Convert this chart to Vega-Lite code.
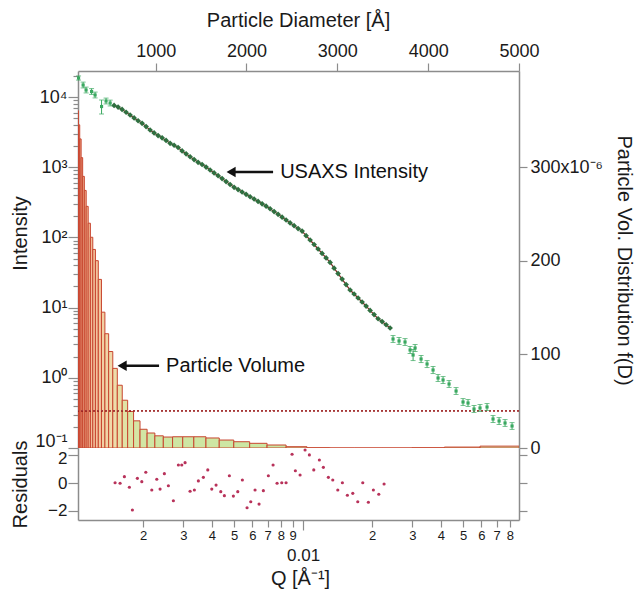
{
  "$schema": "https://vega.github.io/schema/vega-lite/v6.json",
  "padding": {"left": 10, "top": 10, "right": 4, "bottom": 4},
  "bounds": "flush",
  "spacing": 0,
  "config": {
    "font": "Liberation Sans",
    "view": {"stroke": null},
    "axis": {"grid": false, "domainColor": "#8c8c8c", "domainWidth": 1.5, "tickColor": "#8c8c8c", "tickWidth": 1.2, "labelColor": "#1a1a1a", "titleColor": "#1a1a1a", "labelFont": "Liberation Sans", "titleFont": "Liberation Sans", "titleFontWeight": "normal", "labelFontSize": 18, "titleFontSize": 20, "labelFlush": false, "labelOverlap": false, "labelBound": false, "titleAlign": "center", "titleBaseline": "middle"}
  },
  "datasets": {
    "bars": [
      {"d0": 137.0, "d1": 149.9, "v": 360}, {"d0": 149.9, "d1": 164.0, "v": 345}, {"d0": 164.0, "d1": 179.4, "v": 330},
      {"d0": 179.4, "d1": 196.3, "v": 310}, {"d0": 196.3, "d1": 214.8, "v": 290}, {"d0": 214.8, "d1": 235.0, "v": 275},
      {"d0": 235.0, "d1": 257.1, "v": 258}, {"d0": 257.1, "d1": 281.3, "v": 240}, {"d0": 281.3, "d1": 307.8, "v": 225},
      {"d0": 307.8, "d1": 336.8, "v": 212}, {"d0": 336.8, "d1": 368.5, "v": 200}, {"d0": 368.5, "d1": 403.2, "v": 180},
      {"d0": 403.2, "d1": 441.1, "v": 145}, {"d0": 441.1, "d1": 482.6, "v": 122}, {"d0": 482.6, "d1": 528.0, "v": 103},
      {"d0": 528.0, "d1": 577.7, "v": 85}, {"d0": 577.7, "d1": 632.1, "v": 67}, {"d0": 632.1, "d1": 691.6, "v": 51},
      {"d0": 691.6, "d1": 756.7, "v": 39}, {"d0": 756.7, "d1": 827.9, "v": 29}, {"d0": 827.9, "d1": 905.8, "v": 20},
      {"d0": 905.8, "d1": 991.0, "v": 16}, {"d0": 991.0, "d1": 1084.3, "v": 13}, {"d0": 1084.3, "d1": 1186.3, "v": 11.7},
      {"d0": 1186.3, "d1": 1298.0, "v": 12}, {"d0": 1298.0, "d1": 1420.1, "v": 12}, {"d0": 1420.1, "d1": 1553.7, "v": 12},
      {"d0": 1553.7, "d1": 1699.9, "v": 10.7}, {"d0": 1699.9, "d1": 1859.9, "v": 8.5}, {"d0": 1859.9, "d1": 2034.9, "v": 6.7},
      {"d0": 2034.9, "d1": 2226.4, "v": 5}, {"d0": 2226.4, "d1": 2435.9, "v": 3.2}, {"d0": 2435.9, "d1": 2665.2, "v": 1.4},
      {"d0": 2665.2, "d1": 2916.0, "v": 0.3}, {"d0": 2916.0, "d1": 3190.4, "v": 0.05}, {"d0": 3190.4, "d1": 3490.6, "v": 0.05},
      {"d0": 3490.6, "d1": 3819.1, "v": 0.05}, {"d0": 3819.1, "d1": 4178.5, "v": 0.3}, {"d0": 4178.5, "d1": 4571.7, "v": 1},
      {"d0": 4571.7, "d1": 5001.9, "v": 2}
    ],
    "dense": [
      {"q": 0.0014951, "i": 7594}, {"q": 0.0015565, "i": 7180}, {"q": 0.0016204, "i": 6658}, {"q": 0.0016869, "i": 6074},
      {"q": 0.0017562, "i": 5540}, {"q": 0.0018283, "i": 5038}, {"q": 0.0019033, "i": 4596}, {"q": 0.0019814, "i": 4221},
      {"q": 0.0020627, "i": 3788}, {"q": 0.0021474, "i": 3388}, {"q": 0.0022355, "i": 3081}, {"q": 0.0023273, "i": 2819},
      {"q": 0.0024228, "i": 2623}, {"q": 0.0025222, "i": 2409}, {"q": 0.0026258, "i": 2190}, {"q": 0.0027335, "i": 2058},
      {"q": 0.0028457, "i": 1908}, {"q": 0.0029625, "i": 1707}, {"q": 0.0030841, "i": 1552}, {"q": 0.0032107, "i": 1411},
      {"q": 0.0033425, "i": 1283}, {"q": 0.0034797, "i": 1174}, {"q": 0.0036225, "i": 1093}, {"q": 0.0037712, "i": 1003},
      {"q": 0.0039260, "i": 912}, {"q": 0.0040871, "i": 829}, {"q": 0.0042549, "i": 757}, {"q": 0.0044295, "i": 688},
      {"q": 0.0046113, "i": 624}, {"q": 0.0048006, "i": 567}, {"q": 0.0049976, "i": 517}, {"q": 0.0052027, "i": 480},
      {"q": 0.0054163, "i": 443}, {"q": 0.0056386, "i": 411}, {"q": 0.0058700, "i": 380}, {"q": 0.0061109, "i": 352},
      {"q": 0.0063617, "i": 326}, {"q": 0.0066228, "i": 301}, {"q": 0.0068946, "i": 279}, {"q": 0.0071776, "i": 256},
      {"q": 0.0074722, "i": 233}, {"q": 0.0077789, "i": 213}, {"q": 0.0080982, "i": 194}, {"q": 0.0084305, "i": 177},
      {"q": 0.0087765, "i": 161}, {"q": 0.0091368, "i": 147}, {"q": 0.0095118, "i": 133.5}, {"q": 0.0099022, "i": 123},
      {"q": 0.0103086, "i": 106}, {"q": 0.0107317, "i": 91.8}, {"q": 0.0111722, "i": 79.2}, {"q": 0.0116307, "i": 68.4},
      {"q": 0.0121081, "i": 59.2}, {"q": 0.0126050, "i": 51.0}, {"q": 0.0131224, "i": 44.0}, {"q": 0.0136610, "i": 36.5},
      {"q": 0.0142216, "i": 30.5}, {"q": 0.0148053, "i": 25.5}, {"q": 0.0154130, "i": 21.3}, {"q": 0.0160456, "i": 17.8},
      {"q": 0.0167042, "i": 15.6}, {"q": 0.0173898, "i": 13.7}, {"q": 0.0181035, "i": 12.0}, {"q": 0.0188465, "i": 10.5},
      {"q": 0.0196200, "i": 9.12}, {"q": 0.0204253, "i": 7.95}, {"q": 0.0212636, "i": 6.93}, {"q": 0.0221363, "i": 6.32},
      {"q": 0.0230449, "i": 5.69}, {"q": 0.0239907, "i": 5.12}
    ],
    "sparse": [
      {"q": 0.001046, "i": 18650, "lo": 17430, "hi": 19960}, {"q": 0.001095, "i": 14820, "lo": 13470, "hi": 16300},
      {"q": 0.001128, "i": 12580, "lo": 11440, "hi": 13840}, {"q": 0.001192, "i": 11980, "lo": 10890, "hi": 13180},
      {"q": 0.001235, "i": 10680, "lo": 9710, "hi": 11750}, {"q": 0.001318, "i": 7320, "lo": 5730, "hi": 9060},
      {"q": 0.001379, "i": 8770, "lo": 7970, "hi": 9650}, {"q": 0.001437, "i": 8210, "lo": 7460, "hi": 9030},
      {"q": 0.024708, "i": 3.570, "lo": 3.19, "hi": 4.00}, {"q": 0.026249, "i": 3.344, "lo": 2.99, "hi": 3.75},
      {"q": 0.027879, "i": 3.236, "lo": 2.89, "hi": 3.62}, {"q": 0.029331, "i": 2.489, "lo": 2.22, "hi": 2.79},
      {"q": 0.030230, "i": 2.112, "lo": 1.76, "hi": 2.53}, {"q": 0.030844, "i": 2.658, "lo": 2.37, "hi": 2.98},
      {"q": 0.032757, "i": 1.853, "lo": 1.65, "hi": 2.08}, {"q": 0.034790, "i": 1.573, "lo": 1.40, "hi": 1.76},
      {"q": 0.036951, "i": 1.291, "lo": 1.15, "hi": 1.45}, {"q": 0.038857, "i": 0.9935, "lo": 0.887, "hi": 1.113},
      {"q": 0.040863, "i": 0.930, "lo": 0.830, "hi": 1.042}, {"q": 0.043402, "i": 0.816, "lo": 0.729, "hi": 0.914},
      {"q": 0.046577, "i": 0.6484, "lo": 0.579, "hi": 0.726}, {"q": 0.049952, "i": 0.452, "lo": 0.404, "hi": 0.506},
      {"q": 0.052528, "i": 0.4375, "lo": 0.391, "hi": 0.490}, {"q": 0.055790, "i": 0.3594, "lo": 0.321, "hi": 0.403},
      {"q": 0.059255, "i": 0.3713, "lo": 0.332, "hi": 0.416}, {"q": 0.063593, "i": 0.3837, "lo": 0.343, "hi": 0.430},
      {"q": 0.067543, "i": 0.2589, "lo": 0.231, "hi": 0.290}, {"q": 0.071776, "i": 0.2424, "lo": 0.216, "hi": 0.271},
      {"q": 0.076221, "i": 0.2270, "lo": 0.203, "hi": 0.254}, {"q": 0.081778, "i": 0.2058, "lo": 0.184, "hi": 0.230}
    ],
    "notes": [
      {"q": 0.00794, "i": 855, "label": "USAXS Intensity"},
      {"q": 0.002522, "i": 1.487, "label": "Particle Volume"}
    ],
    "arrows": [
      {"q0": 0.004898, "q1": 0.007396, "qh": 0.004849, "i": 855},
      {"q0": 0.001637, "q1": 0.002350, "qh": 0.001621, "i": 1.487}
    ],
    "resid": [
      {"q": 0.0015102, "r": 0.02}, {"q": 0.0015880, "r": -0.02}, {"q": 0.0016582, "r": 0.46}, {"q": 0.0017437, "r": -0.31},
      {"q": 0.0017972, "r": -1.96}, {"q": 0.0018898, "r": 0.34}, {"q": 0.0019753, "r": 0.10}, {"q": 0.0020564, "r": 0.78},
      {"q": 0.0021840, "r": -0.51}, {"q": 0.0022966, "r": 0.27}, {"q": 0.0023741, "r": -0.44}, {"q": 0.0024790, "r": 0.68},
      {"q": 0.0025807, "r": -0.20}, {"q": 0.0027137, "r": -1.29}, {"q": 0.0028537, "r": 1.31}, {"q": 0.0029529, "r": 1.31},
      {"q": 0.0030527, "r": 1.48}, {"q": 0.0032101, "r": -0.60}, {"q": 0.0033519, "r": -0.51}, {"q": 0.0034893, "r": 0.15},
      {"q": 0.0036692, "r": 0.41}, {"q": 0.0038351, "r": 0.95}, {"q": 0.0039926, "r": -0.44}, {"q": 0.0041691, "r": -0.15},
      {"q": 0.0043707, "r": -0.63}, {"q": 0.0045317, "r": -0.92}, {"q": 0.0047654, "r": 0.53}, {"q": 0.0049609, "r": -0.95},
      {"q": 0.0051853, "r": -0.63}, {"q": 0.0054307, "r": 0.22}, {"q": 0.0056934, "r": -1.80}, {"q": 0.0059087, "r": -1.36},
      {"q": 0.0061698, "r": -0.51}, {"q": 0.0064230, "r": -1.53}, {"q": 0.0067070, "r": -0.56}, {"q": 0.0070528, "r": 0.53},
      {"q": 0.0073963, "r": 1.31}, {"q": 0.0076995, "r": -0.02}, {"q": 0.0080716, "r": 0.02}, {"q": 0.0084283, "r": 0.02},
      {"q": 0.0089518, "r": 2.09}, {"q": 0.0092539, "r": 0.89}, {"q": 0.0097028, "r": 0.58}, {"q": 0.010203, "r": 2.40},
      {"q": 0.010654, "r": 2.04}, {"q": 0.011136, "r": 0.95}, {"q": 0.011781, "r": 1.67}, {"q": 0.012265, "r": 1.14},
      {"q": 0.012897, "r": 0.41}, {"q": 0.013480, "r": 0.22}, {"q": 0.014177, "r": -0.51}, {"q": 0.014848, "r": 0.02},
      {"q": 0.015613, "r": -0.89}, {"q": 0.016484, "r": -0.75}, {"q": 0.017334, "r": -1.36}, {"q": 0.018228, "r": 0.02},
      {"q": 0.019284, "r": -1.40}, {"q": 0.020279, "r": -0.51}, {"q": 0.021410, "r": -0.82}, {"q": 0.022583, "r": -0.07}
    ]
  },
  "vconcat": [
    {
      "width": 441,
      "height": 377,
      "layer": [
        {
          "data": {"name": "bars"},
          "layer": [
            {
              "mark": {"type": "rect", "stroke": "#c8452f", "strokeWidth": 1, "clip": true},
              "encoding": {
                "x": {"field": "d0", "type": "quantitative", "scale": {"domain": [145, 5000], "nice": false, "zero": false},
                  "axis": {"orient": "top", "values": [1000, 2000, 3000, 4000, 5000], "format": "d", "title": "Particle Diameter [Å]", "tickSize": 8, "labelPadding": 3, "titleX": 220, "titleY": -51}},
                "x2": {"field": "d1"},
                "y": {"field": "v", "type": "quantitative", "scale": {"domain": [0, 402.5], "nice": false},
                  "axis": {"orient": "right", "values": [0, 100, 200, 300], "labelExpr": "datum.value == 300 ? '300x10⁻⁶' : datum.label", "title": "Particle Vol. Distribution f(D)", "tickSize": 8, "labelPadding": 3, "titleAngle": 90, "titleX": 104, "titleY": 189}},
                "y2": {"datum": 0},
                "fill": {"field": "v", "type": "quantitative", "scale": {"domain": [0, 25, 90, 200, 400], "range": ["#c9e6a3", "#d4e6a4", "#efdcab", "#f3c49e", "#ea9c80"]}, "legend": null}
              }
            },
            {
              "mark": {"type": "rule", "stroke": "#a83838", "strokeDash": [2, 2], "strokeWidth": 1},
              "encoding": {"y": {"datum": 40}}
            }
          ]
        },
        {
          "layer": [
            {
              "data": {"name": "sparse"},
              "mark": {"type": "errorbar", "ticks": {"size": 5}, "color": "#3aa860"},
              "encoding": {
                "x": {"field": "q", "type": "quantitative", "scale": {"type": "log", "domain": [0.00104, 0.0877], "nice": false}, "axis": null},
                "y": {"field": "lo", "type": "quantitative", "scale": {"type": "log", "domain": [0.1, 23470], "nice": false},
                  "axis": {"orient": "left", "title": "Intensity", "titleX": -58, "titleY": 162, "labelPadding": 1,
                    "values": [0.1, 0.2, 0.3, 0.4, 0.5, 0.6, 0.7, 0.8, 0.9, 1, 2, 3, 4, 5, 6, 7, 8, 9, 10, 20, 30, 40, 50, 60, 70, 80, 90, 100, 200, 300, 400, 500, 600, 700, 800, 900, 1000, 2000, 3000, 4000, 5000, 6000, 7000, 8000, 9000, 10000, 20000],
                    "labelExpr": "datum.value == 10000 ? '10⁴' : datum.value == 1000 ? '10³' : datum.value == 100 ? '10²' : datum.value == 10 ? '10¹' : datum.value == 1 ? '10⁰' : datum.value == 0.1 ? '10⁻¹' : ''",
                    "labelBaseline": {"condition": {"test": "datum.value == 0.1", "value": "alphabetic"}, "value": "middle"},
                    "labelOffset": {"condition": {"test": "datum.value == 0.1", "value": -2}, "value": 0},
                    "tickSize": {"condition": {"test": "indexof([0.1, 1, 10, 100, 1000, 10000], datum.value) >= 0", "value": 10}, "value": 5}}},
                "y2": {"field": "hi"}
              }
            },
            {
              "data": {"name": "dense"},
              "mark": {"type": "line", "color": "#7d2a22", "strokeWidth": 1.2},
              "encoding": {
                "x": {"field": "q", "type": "quantitative", "scale": {"type": "log", "domain": [0.00104, 0.0877], "nice": false}, "axis": null},
                "y": {"field": "i", "type": "quantitative", "scale": {"type": "log", "domain": [0.1, 23470], "nice": false}}
              }
            },
            {
              "data": {"name": "dense"},
              "mark": {"type": "point", "shape": "diamond", "filled": true, "size": 32, "color": "#2f7040", "opacity": 1},
              "encoding": {
                "x": {"field": "q", "type": "quantitative", "axis": null},
                "y": {"field": "i", "type": "quantitative"}
              }
            },
            {
              "data": {"name": "sparse"},
              "mark": {"type": "point", "shape": "square", "filled": true, "size": 10, "color": "#3aa860", "opacity": 1},
              "encoding": {
                "x": {"field": "q", "type": "quantitative", "axis": null},
                "y": {"field": "i", "type": "quantitative"}
              }
            },
            {
              "data": {"name": "arrows"},
              "mark": {"type": "rule", "color": "#111111", "strokeWidth": 2.6},
              "encoding": {
                "x": {"field": "q0", "type": "quantitative", "axis": null},
                "x2": {"field": "q1"},
                "y": {"field": "i", "type": "quantitative"}
              }
            },
            {
              "data": {"name": "arrows"},
              "mark": {"type": "point", "shape": "triangle-left", "filled": true, "size": 110, "color": "#111111", "opacity": 1},
              "encoding": {
                "x": {"field": "qh", "type": "quantitative", "axis": null},
                "y": {"field": "i", "type": "quantitative"}
              }
            },
            {
              "data": {"name": "notes"},
              "mark": {"type": "text", "align": "left", "baseline": "middle", "fontSize": 20, "color": "#111111"},
              "encoding": {
                "x": {"field": "q", "type": "quantitative", "axis": null},
                "y": {"field": "i", "type": "quantitative"},
                "text": {"field": "label"}
              }
            }
          ]
        }
      ],
      "resolve": {"scale": {"x": "independent", "y": "independent"}}
    },
    {
      "width": 441,
      "height": 72,
      "data": {"name": "resid"},
      "layer": [
        {
          "mark": {"type": "circle", "size": 10, "color": "#b8325a", "opacity": 1},
          "encoding": {
            "x": {"field": "q", "type": "quantitative", "scale": {"type": "log", "domain": [0.00104, 0.0877], "nice": false},
              "axis": {"orient": "bottom", "title": "Q [Å⁻¹]", "titleX": 222, "titleY": 58,
                "values": [0.002, 0.003, 0.004, 0.005, 0.006, 0.007, 0.008, 0.009, 0.01, 0.02, 0.03, 0.04, 0.05, 0.06, 0.07, 0.08],
                "labelExpr": "datum.value == 0.01 ? '0.01' : format(datum.value < 0.01 ? datum.value * 1000 : datum.value * 100, '.0f')",
                "labelFontSize": {"condition": {"test": "datum.value == 0.01", "value": 17}, "value": 13},
                "labelPadding": {"condition": {"test": "datum.value == 0.01", "value": 17}, "value": 2},
                "tickSize": {"condition": {"test": "datum.value == 0.01", "value": 10}, "value": 7}}},
            "y": {"field": "r", "type": "quantitative", "scale": {"domain": [-2.69, 2.545], "nice": false, "zero": false},
              "axis": {"orient": "left", "values": [-2, 0, 2], "title": "Residuals", "tickSize": 10, "labelPadding": 1, "labelFontSize": 17, "titleX": -58, "titleY": 36,
                "labelOffset": {"condition": {"test": "datum.value == 2", "value": 3}, "value": 0}}}
          }
        },
        {
          "mark": {"type": "circle", "opacity": 0},
          "encoding": {
            "y": {"field": "r", "type": "quantitative", "scale": {"domain": [-2.69, 2.545], "nice": false, "zero": false},
              "axis": {"orient": "right", "values": [-2, 0, 2], "labels": false, "title": null, "tickSize": 8}}
          }
        }
      ],
      "resolve": {"scale": {"y": "independent"}}
    }
  ]
}
